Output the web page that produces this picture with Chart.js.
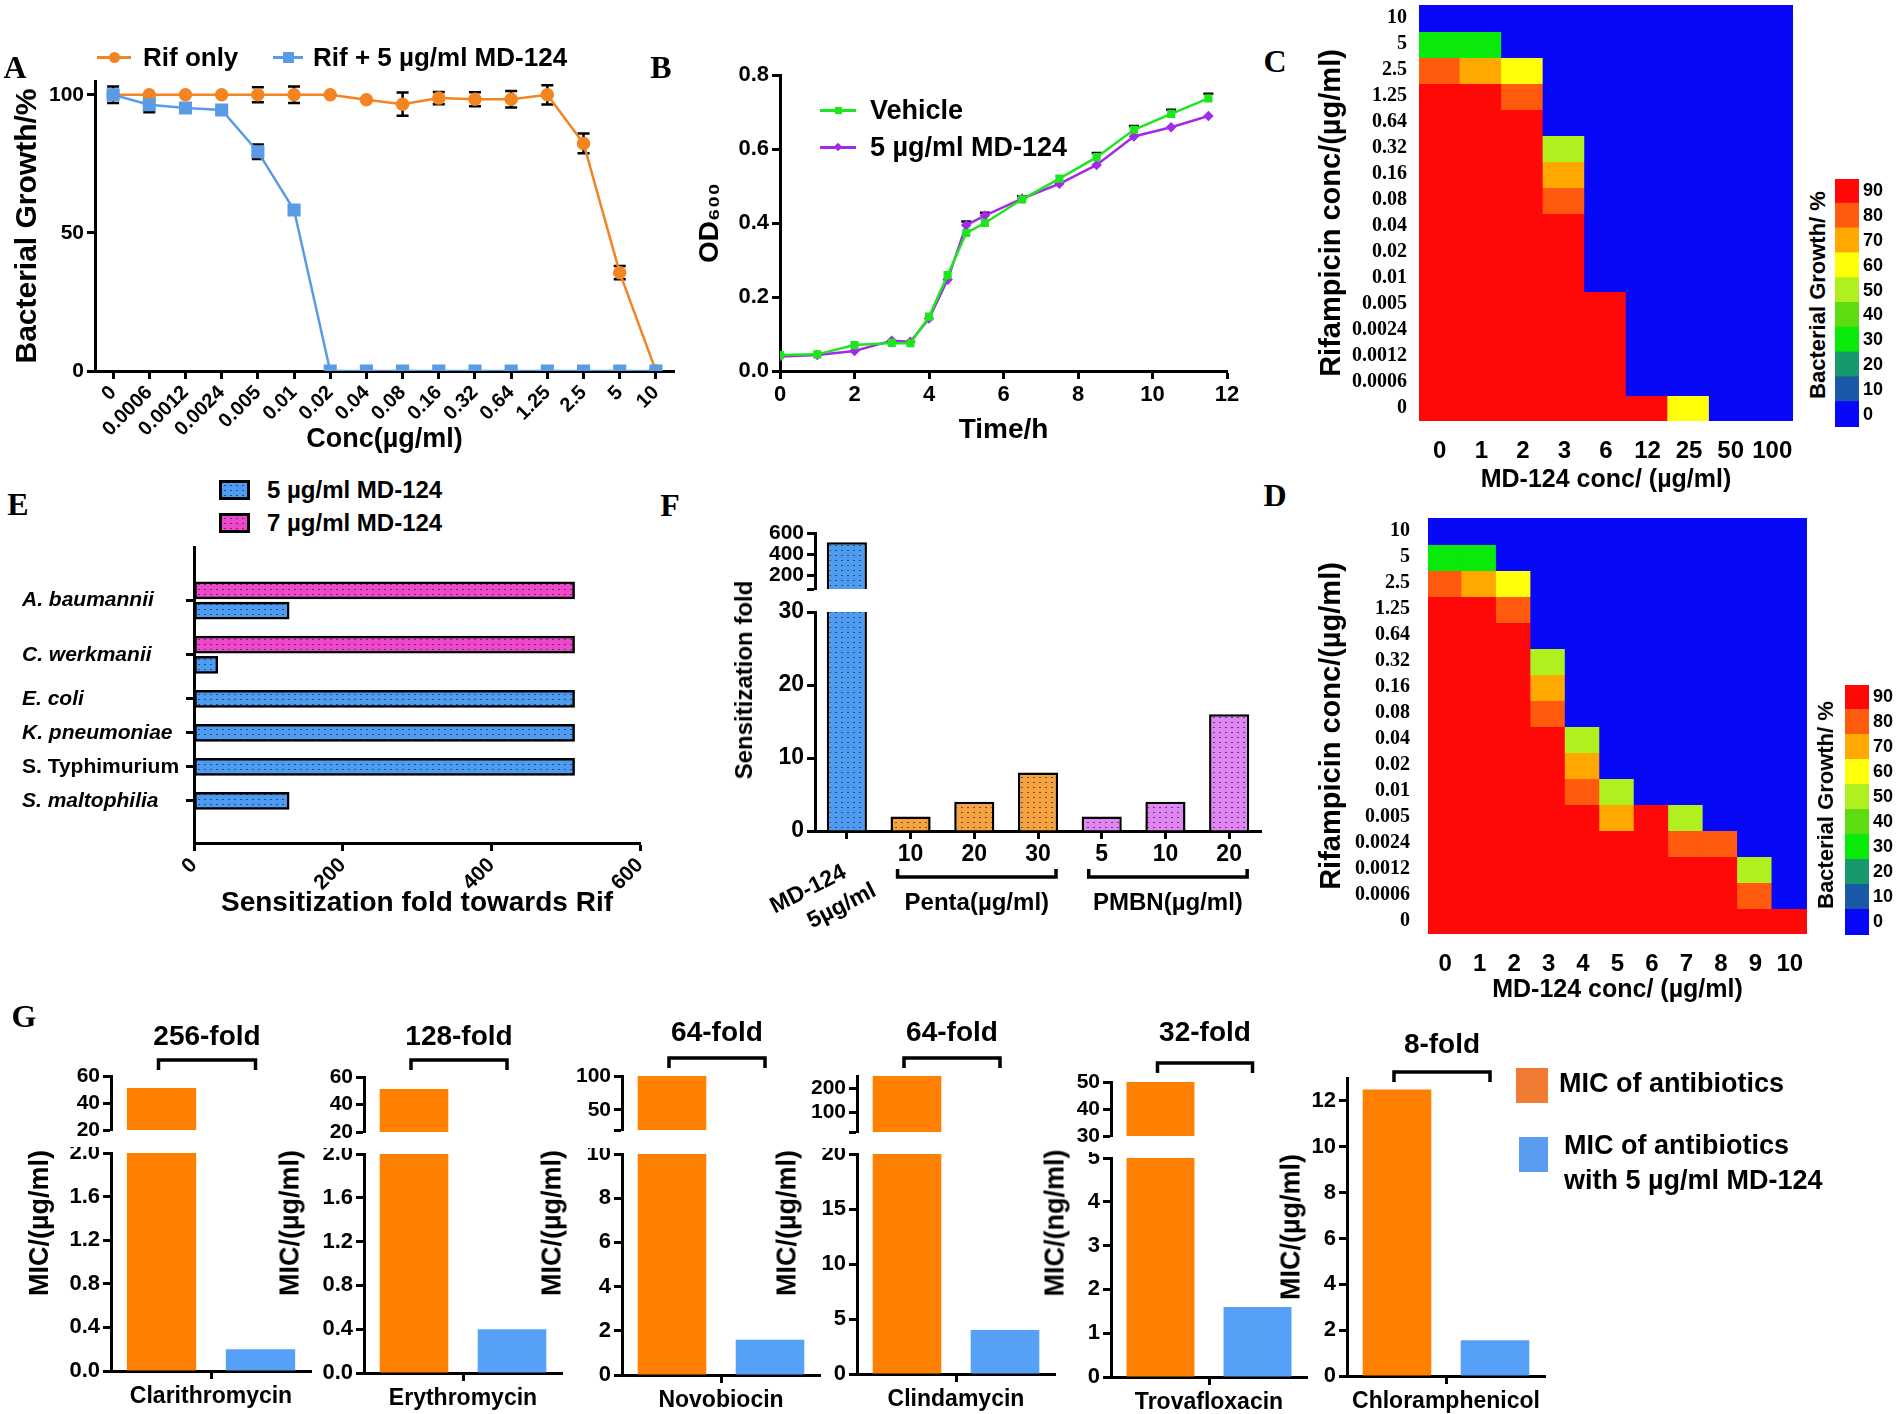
<!DOCTYPE html>
<html>
<head>
<meta charset="utf-8">
<title>MD-124 sensitization figure</title>
<script src="https://cdn.jsdelivr.net/npm/chart.js@4.4.1/dist/chart.umd.min.js"></script>
<style>
  body { margin: 0; background: #fff; }
  #fig { position: relative; width: 1901px; height: 1414px; overflow: hidden; background: #fff;
         font-family: "Liberation Sans", Arial, sans-serif; font-weight: bold; color: #000; }
  #fig canvas { position: absolute; }
  .t, .l, .v, .b { position: absolute; white-space: nowrap; line-height: 1; }
  .t { transform: translate(-50%, -50%); }
  .l { transform: translate(0, -50%); }
  .v { transform: translate(-50%, -50%) rotate(-90deg); }
  .p { font-family: "Liberation Serif", "Times New Roman", serif; }
</style>
</head>
<body>
<div id="fig"></div>
<script>
var SANS = '"Liberation Sans", Arial, sans-serif';
var SERIF = '"Liberation Serif", "Times New Roman", serif';

// A - growth vs rifampicin
var concLabels = ['0','0.0006','0.0012','0.0024','0.005','0.01','0.02','0.04','0.08','0.16','0.32','0.64','1.25','2.5','5','10'];
var rifOnly   = [100,100,100,100,100,100,100,98.2,96.6,98.8,98.4,98.4,100,82.4,35.6,0];
var rifOnlySd = [0,0,0,0,2.7,3,0,0,4.2,2.2,2.5,3,3.5,3.6,2.4,0];
var rifMd     = [100,96.4,95.2,94.5,79.4,58.3,0,0,0,0,0,0,0,0,0,0];
var rifMdSd   = [3,2.7,0,0,2.6,0,0,0,0,0,0,0,0,0,0,0];
var growthTicks = [0,50,100];

// B - growth curve
var timeH       = [0,1,2,3,3.5,4,4.5,5,5.5,6.5,7.5,8.5,9.5,10.5,11.5];
var odVehicle   = [0.043,0.045,0.070,0.076,0.075,0.147,0.259,0.373,0.400,0.464,0.520,0.578,0.652,0.695,0.737];
var odVehicleSd = [0,0,0,0,0,0,0,0,0,0.008,0,0.011,0.01,0.011,0.012];
var odMd        = [0.039,0.043,0.054,0.082,0.079,0.142,0.247,0.394,0.420,0.466,0.506,0.557,0.634,0.659,0.689];
var odMdSd      = [0,0,0,0,0,0,0,0.01,0.008,0,0,0,0,0,0];
var timeTicks = [0,2,4,6,8,10,12];
var odTicks = [0,0.2,0.4,0.6,0.8];

// C, D - checkerboards (growth %)
var rifRows = ['10','5','2.5','1.25','0.64','0.32','0.16','0.08','0.04','0.02','0.01','0.005','0.0024','0.0012','0.0006','0'];
var mdColsC = ['0','1','2','3','6','12','25','50','100'];
var growthC = [
  [0,0,0,0,0,0,0,0,0],
  [35,35,0,0,0,0,0,0,0],
  [85,75,65,0,0,0,0,0,0],
  [95,95,85,0,0,0,0,0,0],
  [95,95,95,0,0,0,0,0,0],
  [95,95,95,55,0,0,0,0,0],
  [95,95,95,75,0,0,0,0,0],
  [95,95,95,85,0,0,0,0,0],
  [95,95,95,95,0,0,0,0,0],
  [95,95,95,95,0,0,0,0,0],
  [95,95,95,95,0,0,0,0,0],
  [95,95,95,95,95,0,0,0,0],
  [95,95,95,95,95,0,0,0,0],
  [95,95,95,95,95,0,0,0,0],
  [95,95,95,95,95,0,0,0,0],
  [95,95,95,95,95,95,65,0,0]
];
var mdColsD = ['0','1','2','3','4','5','6','7','8','9','10'];
var growthD = [
  [0,0,0,0,0,0,0,0,0,0,0],
  [35,35,0,0,0,0,0,0,0,0,0],
  [85,75,65,0,0,0,0,0,0,0,0],
  [95,95,85,0,0,0,0,0,0,0,0],
  [95,95,95,0,0,0,0,0,0,0,0],
  [95,95,95,55,0,0,0,0,0,0,0],
  [95,95,95,75,0,0,0,0,0,0,0],
  [95,95,95,85,0,0,0,0,0,0,0],
  [95,95,95,95,55,0,0,0,0,0,0],
  [95,95,95,95,75,0,0,0,0,0,0],
  [95,95,95,95,85,55,0,0,0,0,0],
  [95,95,95,95,95,75,95,55,0,0,0],
  [95,95,95,95,95,95,95,85,85,0,0],
  [95,95,95,95,95,95,95,95,95,55,0],
  [95,95,95,95,95,95,95,95,95,85,0],
  [95,95,95,95,95,95,95,95,95,95,95]
];
var binTicks = [0,10,20,30,40,50,60,70,80,90];
var binColors = ['#0808F8','#1A58A8','#17996C','#0AEA0A','#5EDC12','#B0F01E','#FFFF0A','#FFA800','#FF5A0E','#FF0808'];

// E - sensitization per species
var species = ['A. baumannii','C. werkmanii','E. coli','K. pneumoniae','S. Typhimurium','S. maltophilia'];
var fold5 = [128,32,512,512,512,128];
var fold7 = [512,512,null,null,null,null];
var eTicks = [0,200,400,600];

// F - comparison with other potentiators
var fLabels = [['MD-124','5\u00b5g/ml'],'10','20','30','5','10','20'];
var fFold = [512,2,4,8,2,4,16];
var fKind = ['md','penta','penta','penta','pmbn','pmbn','pmbn'];
var fGroups = [{name:'Penta(\u00b5g/ml)', from:1, to:3}, {name:'PMBN(\u00b5g/ml)', from:4, to:6}];
var fLowTicks = [0,10,20,30];
var fTopTicks = [70,200,400,600];
var fTopLabels = ['','200','400','600'];

// G - MIC of other antibiotics
var gDrugs = ['Clarithromycin','Erythromycin','Novobiocin','Clindamycin','Trovafloxacin','Chloramphenicol'];
var gMic   = [51.2,51.2,102.4,256,51.2,12.5];
var gMicMd = [0.2,0.4,1.6,4,1.6,1.56];
var gFold  = ['256-fold','128-fold','64-fold','64-fold','32-fold','8-fold'];
var gUnit  = ['MIC/(\u00b5g/ml)','MIC/(\u00b5g/ml)','MIC/(\u00b5g/ml)','MIC/(\u00b5g/ml)','MIC/(ng/ml)','MIC/(\u00b5g/ml)'];
var gLowTicks = [[0,0.4,0.8,1.2,1.6,2],[0,0.4,0.8,1.2,1.6,2],[0,2,4,6,8,10],[0,5,10,15,20],[0,1,2,3,4,5],[0,2,4,6,8,10,12]];
var gLowMax = [2,2,10,20,5,13];
var gTopTicks = [[20,40,60],[20,40,60],[20,50,100],[20,100,200],[30,40,50],null];
var gTopLabels = [['20','40','60'],['20','40','60'],['','50','100'],['','100','200'],['30','40','50'],null];
var gTopMax = [60,60,100,250,50,null];

// where each G chart sits on the page
var gPlace = [
  {ax:111, right:311, low:[1153,1371], up:[1076,1130], title:39, br:1060, ft:1037},
  {ax:364, right:562, low:[1154,1373], up:[1077,1132], title:290, br:1060, ft:1037},
  {ax:622, right:820, low:[1154,1375], up:[1076,1130], title:552, br:1058, ft:1033},
  {ax:857, right:1055, low:[1154,1374], up:[1076,1132], title:787, br:1058, ft:1033},
  {ax:1111, right:1307, low:[1158,1377], up:[1082,1136], title:1055, br:1063, ft:1033},
  {ax:1347, right:1545, low:[1078,1376], up:null, title:1291, br:1072, ft:1045}
];

var orangeA = '#F28522', blueA = '#5A9BE6';
var green = '#1EE61E', purple = '#A22BE8';
var gOrange = '#FF7F00', gBlue = '#57A0F7';

Chart.defaults.font.family = SANS;
Chart.defaults.font.weight = 'bold';
Chart.defaults.color = '#000';
Chart.defaults.animation = false;
Chart.defaults.events = [];
Chart.defaults.plugins.legend.display = false;
Chart.defaults.plugins.tooltip.enabled = false;

var fig = document.getElementById('fig');

function el(cls, x, y, text, size, css) {
  var d = document.createElement('div');
  d.className = cls;
  if (text != null) d.textContent = text;
  d.style.left = x + 'px';
  d.style.top = y + 'px';
  if (size) d.style.fontSize = size + 'px';
  if (css) Object.assign(d.style, css);
  fig.appendChild(d);
  return d;
}
function box(x, y, w, h, css) {
  return el('b', x, y, null, 0, Object.assign({width: w + 'px', height: h + 'px', boxSizing: 'border-box'}, css));
}
function lineKey(x0, x1, y, color, shape, size) {
  box(x0, y - 1.5, x1 - x0, 3, {background: color});
  var m = box((x0 + x1) / 2 - size / 2, y - size / 2, size, size, {background: color});
  if (shape == 'circle') m.style.borderRadius = '50%';
  if (shape == 'diamond') m.style.transform = 'rotate(45deg)';
}

// dotted fills
var scratch = document.createElement('canvas').getContext('2d');
function dotTile(base, dot) {
  var t = document.createElement('canvas');
  t.width = 6; t.height = 5;
  var g = t.getContext('2d');
  g.fillStyle = base; g.fillRect(0, 0, 6, 5);
  g.fillStyle = dot; g.fillRect(2, 2, 2, 1);
  return t;
}
var tiles = {
  md: dotTile('#4F9BF0', '#1B4E94'),
  pink: dotTile('#EC4ACB', '#86206E'),
  penta: dotTile('#F5A243', '#7E4A12'),
  pmbn: dotTile('#DE87F2', '#7A2C8E')
};
function pat(k) { return scratch.createPattern(tiles[k], 'repeat'); }

function setTicks(vals) {
  return function(s) { s.ticks = vals.map(function(v) { return {value: v}; }); };
}
function fitW(w) { return function(s) { s.width = w; s.paddingTop = 0; s.paddingBottom = 0; }; }
function fitH(h) { return function(s) { s.height = h; s.paddingLeft = 0; s.paddingRight = 0; }; }
function axisStyle(extra) {
  return Object.assign({
    border: {display: true, color: '#000', width: 3},
    grid: {display: true, drawOnChartArea: false, drawTicks: true, tickLength: 8, tickWidth: 3, tickColor: '#000', offset: false}
  }, extra);
}

// area = plot area in page px, m = room around it for axes
function plot(area, m, config) {
  var c = document.createElement('canvas');
  var w = area[2] - area[0] + m.l + m.r, h = area[3] - area[1] + m.t + m.b;
  c.width = w; c.height = h;
  c.style.left = (area[0] - m.l) + 'px';
  c.style.top = (area[1] - m.t) + 'px';
  c.style.width = w + 'px';
  c.style.height = h + 'px';
  fig.appendChild(c);
  var o = config.options;
  var pad = {left: m.l, top: m.t, right: m.r, bottom: m.b};
  Object.keys(o.scales).forEach(function(k) {
    var s = o.scales[k];
    if (s.display === false) return;
    var pos = s.position || (k.charAt(0) == 'x' ? 'bottom' : 'left');
    if (pos == 'bottom') { s.afterFit = fitH(m.b); pad.bottom = 0; }
    if (pos == 'left') { s.afterFit = fitW(m.l); pad.left = 0; }
    if (pos == 'right') { s.afterFit = fitW(m.r); pad.right = 0; }
  });
  o.layout = {padding: pad};
  o.responsive = false;
  o.devicePixelRatio = 1;
  return new Chart(c, config);
}

var errorBars = {
  id: 'errorBars',
  beforeDatasetsDraw: function(chart) {
    var ctx = chart.ctx, ys = chart.scales.y;
    chart.data.datasets.forEach(function(ds, i) {
      if (!ds.errors) return;
      var meta = chart.getDatasetMeta(i);
      ctx.save();
      ctx.strokeStyle = '#000';
      ctx.lineWidth = 2.5;
      ds.errors.forEach(function(e, j) {
        if (!e) return;
        var v = ds.data[j];
        if (typeof v == 'object') v = v.y;
        var x = meta.data[j].x, w = ds.capWidth || 6;
        var top = ys.getPixelForValue(v + e), bot = ys.getPixelForValue(ds.upOnly ? v : v - e);
        ctx.beginPath();
        ctx.moveTo(x, top); ctx.lineTo(x, bot);
        ctx.moveTo(x - w, top); ctx.lineTo(x + w, top);
        if (!ds.upOnly) { ctx.moveTo(x - w, bot); ctx.lineTo(x + w, bot); }
        ctx.stroke();
      });
      ctx.restore();
    });
  }
};

// ---------- A ----------
plot([95, 81, 674, 371], {l: 85, r: 30, t: 41, b: 85}, {
  type: 'line',
  data: {
    labels: concLabels,
    datasets: [
      {label: 'Rif only', data: rifOnly, errors: rifOnlySd, borderColor: orangeA, backgroundColor: orangeA,
       borderWidth: 2.5, pointStyle: 'circle', pointRadius: 5.5, order: 1},
      {label: 'Rif + 5 \u00b5g/ml MD-124', data: rifMd, errors: rifMdSd, borderColor: blueA, backgroundColor: blueA,
       borderWidth: 2.5, pointStyle: 'rect', pointRadius: 7.5, order: 0}
    ]
  },
  options: {
    scales: {
      x: axisStyle({offset: true,
        ticks: {font: {size: 20}, minRotation: 45, maxRotation: 45, autoSkip: false, padding: 2},
        title: {display: true, text: 'Conc(\u00b5g/ml)', font: {size: 27}, padding: 0}}),
      y: axisStyle({min: 0, max: 105, afterBuildTicks: setTicks(growthTicks),
        ticks: {font: {size: 21}, padding: 3, autoSkip: false},
        title: {display: true, text: 'Bacterial Growth/%', font: {size: 30}, padding: 0}})
    }
  },
  plugins: [errorBars]
});
lineKey(97, 131, 57, orangeA, 'circle', 11);
el('l', 143, 57, 'Rif only', 26);
lineKey(273, 303, 57, blueA, 'square', 11);
el('l', 313, 57, 'Rif + 5 \u00b5g/ml MD-124', 26);

// ---------- B ----------
function pts(ys) { return timeH.map(function(t, i) { return {x: t, y: ys[i]}; }); }
plot([780, 75, 1227, 371], {l: 87, r: 30, t: 15, b: 76}, {
  type: 'line',
  data: {
    datasets: [
      {label: 'Vehicle', data: pts(odVehicle), errors: odVehicleSd, upOnly: true, capWidth: 5,
       borderColor: green, backgroundColor: green, borderWidth: 2.5, pointStyle: 'rect', pointRadius: 4},
      {label: '5 \u00b5g/ml MD-124', data: pts(odMd), errors: odMdSd, upOnly: true, capWidth: 5,
       borderColor: purple, backgroundColor: purple, borderWidth: 2.5, pointStyle: 'rectRot', pointRadius: 3.5}
    ]
  },
  options: {
    scales: {
      x: axisStyle({type: 'linear', min: 0, max: 12, afterBuildTicks: setTicks(timeTicks),
        ticks: {font: {size: 22}, padding: 3, autoSkip: false},
        title: {display: true, text: 'Time/h', font: {size: 28}, padding: 0}}),
      y: axisStyle({min: 0, max: 0.8, afterBuildTicks: setTicks(odTicks),
        ticks: {font: {size: 22}, padding: 3, autoSkip: false, callback: function(v) { return v.toFixed(1); }},
        title: {display: true, text: 'OD\u2086\u2080\u2080', font: {size: 28}, padding: 0}})
    }
  },
  plugins: [errorBars]
});
lineKey(820, 856, 110, green, 'square', 7);
el('l', 870, 110, 'Vehicle', 27);
lineKey(820, 856, 147, purple, 'diamond', 6);
el('l', 870, 147, '5 \u00b5g/ml MD-124', 27);

// ---------- C, D ----------
function binColor(v) { return binColors[Math.min(9, Math.floor(v / 10))]; }
function heatmap(area, m, cols, grid, yPad, xPad) {
  plot(area, m, {
    type: 'bar',
    data: {
      labels: cols,
      datasets: grid.map(function(row, r) {
        return {data: row.map(function() { return [r, r + 1]; }), backgroundColor: row.map(binColor), borderWidth: 0};
      })
    },
    options: {
      datasets: {bar: {grouped: false, categoryPercentage: 1, barPercentage: 1, inflateAmount: 1}},
      scales: {
        x: {grid: {display: false}, border: {display: false},
            ticks: {font: {size: 24}, padding: xPad, autoSkip: false, maxRotation: 0},
            title: {display: true, text: 'MD-124 conc/ (\u00b5g/ml)', font: {size: 25}, padding: 0}},
        y: {min: 0, max: rifRows.length, reverse: true, grid: {display: false, drawTicks: false}, border: {display: false},
            afterBuildTicks: setTicks(rifRows.map(function(_, r) { return r + 0.5; })),
            ticks: {autoSkip: false, padding: yPad, font: {family: SERIF, size: 20},
                    callback: function(v, i) { return rifRows[i]; }},
            title: {display: true, text: 'Rifampicin conc/(\u00b5g/ml)', font: {size: 29}, padding: 0}}
      }
    }
  });
}
function colorbar(area) {
  plot(area, {l: 0, r: 40, t: 10, b: 10}, {
    type: 'bar',
    data: {
      labels: [''],
      datasets: binColors.map(function(c, i) {
        return {data: [[binTicks[i], binTicks[i] + 10]], backgroundColor: c, borderWidth: 0};
      })
    },
    options: {
      datasets: {bar: {grouped: false, categoryPercentage: 1, barPercentage: 1, inflateAmount: 1}},
      scales: {
        x: {display: false},
        y: {position: 'right', min: 0, max: 100, grid: {display: false, drawTicks: false}, border: {display: false},
            afterBuildTicks: setTicks(binTicks.map(function(v) { return v + 5; })),
            ticks: {autoSkip: false, padding: 4, font: {size: 18}, callback: function(v, i) { return binTicks[i]; }}}
      }
    }
  });
}
heatmap([1419, 5, 1793, 421], {l: 104, r: 8, t: 5, b: 74}, mdColsC, growthC, 12, 8);
colorbar([1835, 179, 1859, 427]);
el('v', 1818, 295, 'Bacterial Growth/ %', 22);
heatmap([1428, 518, 1807, 934], {l: 113, r: 8, t: 5, b: 71}, mdColsD, growthD, 18, 8);
colorbar([1845, 685, 1869, 935]);
el('v', 1826, 805, 'Bacterial Growth/ %', 22);

// ---------- E ----------
// bar slots: two bars per species when both doses exist
var ePos5 = [], ePos7 = [], eCenters = [], slot = 0;
species.forEach(function(s, i) {
  var start = slot;
  if (fold7[i] != null) { ePos7.push(slot); slot += 24.5; } else { ePos7.push(null); }
  ePos5.push(slot);
  eCenters.push((start + slot) / 2);
  slot += 41;
});
var e5 = fold5.map(function(v, i) { return {x: v, y: ePos5[i]}; });
var e7 = [];
fold7.forEach(function(v, i) { if (v != null) e7.push({x: v, y: ePos7[i]}); });
plot([194, 547, 640, 843], {l: 172, r: 40, t: 10, b: 77}, {
  type: 'bar',
  data: {
    datasets: [
      {label: '5 \u00b5g/ml MD-124', data: e5, backgroundColor: pat('md')},
      {label: '7 \u00b5g/ml MD-124', data: e7, backgroundColor: pat('pink')}
    ]
  },
  options: {
    indexAxis: 'y',
    datasets: {bar: {grouped: false, barThickness: 17, borderWidth: 2.5, borderColor: '#000', borderSkipped: false}},
    scales: {
      x: axisStyle({type: 'linear', min: 0, max: 600, afterBuildTicks: setTicks(eTicks),
        ticks: {font: {size: 21}, minRotation: 45, maxRotation: 45, padding: 2, autoSkip: false},
        title: {display: true, text: 'Sensitization fold towards Rif', font: {size: 28}, padding: 0}}),
      y: axisStyle({type: 'linear', reverse: true, min: ePos7[0] - 22.5, max: ePos5[ePos5.length - 1] + 21,
        afterBuildTicks: setTicks(eCenters),
        ticks: {crossAlign: 'far', autoSkip: false,
                font: function(c) { return {size: 21, style: species[c.index] == 'S. Typhimurium' ? 'normal' : 'italic'}; },
                callback: function(v, i) { return species[i]; }}})
    }
  }
});
box(219, 480, 31, 20, {border: '3px solid #000', background: 'url(' + tiles.md.toDataURL() + ')'});
el('l', 267, 490, '5 \u00b5g/ml MD-124', 24);
box(219, 513, 31, 20, {border: '3px solid #000', background: 'url(' + tiles.pink.toDataURL() + ')'});
el('l', 267, 523, '7 \u00b5g/ml MD-124', 24);

// ---------- F ----------
var fFill = fKind.map(pat);
var fDecor = {
  id: 'fDecor',
  afterDraw: function(chart) {
    var ctx = chart.ctx, xs = chart.scales.x, y0 = chart.chartArea.bottom;
    ctx.save();
    ctx.fillStyle = '#000';
    ctx.font = 'bold 23px ' + SANS;
    ctx.translate(xs.getPixelForValue(0) - 2, y0 + 40);
    ctx.rotate(-27 * Math.PI / 180);
    ctx.textAlign = 'right';
    ctx.textBaseline = 'middle';
    ctx.fillText(fLabels[0][0], 0, 0);
    ctx.fillText(fLabels[0][1], 18, 30);
    ctx.restore();
    ctx.save();
    ctx.strokeStyle = '#000';
    ctx.fillStyle = '#000';
    ctx.lineWidth = 3.5;
    ctx.font = 'bold 24px ' + SANS;
    ctx.textAlign = 'center';
    ctx.textBaseline = 'middle';
    fGroups.forEach(function(g) {
      var a = xs.getPixelForValue(g.from) - 13, b = xs.getPixelForValue(g.to) + 18, y = y0 + 46;
      ctx.beginPath();
      ctx.moveTo(a, y - 8); ctx.lineTo(a, y); ctx.lineTo(b, y); ctx.lineTo(b, y - 8);
      ctx.stroke();
      ctx.fillText(g.name, (a + b) / 2, y + 26);
    });
    ctx.restore();
  }
};
plot([815, 612, 1261, 831], {l: 60, r: 10, t: 12, b: 110}, {
  type: 'bar',
  data: {labels: fLabels, datasets: [{data: fFold, backgroundColor: fFill, borderColor: '#000', borderWidth: 2.5, clip: 0}]},
  options: {
    datasets: {bar: {categoryPercentage: 1, barPercentage: 0.63}},
    scales: {
      x: axisStyle({ticks: {font: {size: 23}, padding: 2, autoSkip: false, maxRotation: 0,
        callback: function(v, i) { return i == 0 ? '' : fLabels[i]; }}}),
      y: axisStyle({min: 0, max: 30, afterBuildTicks: setTicks(fLowTicks), ticks: {font: {size: 23}, padding: 3, autoSkip: false}})
    }
  },
  plugins: [fDecor]
});
plot([815, 533, 1261, 589], {l: 60, r: 10, t: 15, b: 14}, {
  type: 'bar',
  data: {labels: fLabels, datasets: [{
    data: fFold.map(function(v) { return v > fTopTicks[0] ? v : null; }),
    backgroundColor: fFill, borderColor: '#000', borderWidth: 2.5, clip: 0}]},
  options: {
    datasets: {bar: {categoryPercentage: 1, barPercentage: 0.63}},
    scales: {
      x: {display: false},
      y: axisStyle({min: fTopTicks[0], max: fTopTicks[fTopTicks.length - 1], afterBuildTicks: setTicks(fTopTicks),
        ticks: {font: {size: 21}, padding: 3, autoSkip: false, callback: function(v, i) { return fTopLabels[i]; }}})
    }
  }
});
el('v', 744, 680, 'Sensitization fold', 24);

// ---------- G ----------
function foldBracket(text, brDy, txtDy) {
  return {
    id: 'foldBracket',
    afterDraw: function(chart) {
      var a = chart.getDatasetMeta(0).data[0].x - 3, b = chart.getDatasetMeta(1).data[0].x - 5;
      var ctx = chart.ctx, y = chart.chartArea.top + brDy;
      ctx.save();
      ctx.strokeStyle = '#000';
      ctx.lineWidth = 3.5;
      ctx.beginPath();
      ctx.moveTo(a, y + 10); ctx.lineTo(a, y); ctx.lineTo(b, y); ctx.lineTo(b, y + 10);
      ctx.stroke();
      ctx.fillStyle = '#000';
      ctx.font = 'bold 28px ' + SANS;
      ctx.textAlign = 'center';
      ctx.textBaseline = 'middle';
      ctx.fillText(text, (a + b) / 2, chart.chartArea.top + txtDy);
      ctx.restore();
    }
  };
}
gDrugs.forEach(function(drug, i) {
  var P = gPlace[i];
  var top = P.up ? P.up[0] : P.low[0];
  var bracket = foldBracket(gFold[i], P.br - top, P.ft - top);
  var lt = gLowTicks[i], dec = lt[1] < 1 ? 1 : 0;
  plot([P.ax, P.low[0], P.right, P.low[1]], {l: 60, r: 12, t: P.up ? 6 : 50, b: 40}, {
    type: 'bar',
    data: {labels: [drug], datasets: [
      {data: [gMic[i]], backgroundColor: gOrange, clip: 0},
      {data: [gMicMd[i]], backgroundColor: gBlue, clip: 0}
    ]},
    options: {
      datasets: {bar: {categoryPercentage: 0.99, barPercentage: 0.7}},
      scales: {
        x: axisStyle({ticks: {font: {size: 23}, padding: 4, maxRotation: 0}}),
        y: axisStyle({min: 0, max: gLowMax[i], afterBuildTicks: setTicks(lt),
          ticks: {font: {size: 22}, padding: 3, autoSkip: false, callback: function(v) { return v.toFixed(dec); }}})
      }
    },
    plugins: P.up ? [] : [bracket]
  });
  if (P.up) {
    var tt = gTopTicks[i], tl = gTopLabels[i];
    plot([P.ax, P.up[0], P.right, P.up[1]], {l: 60, r: 12, t: 70, b: 14}, {
      type: 'bar',
      data: {labels: [drug], datasets: [
        {data: [gMic[i] > tt[0] ? gMic[i] : null], backgroundColor: gOrange, clip: 0},
        {data: [gMicMd[i] > tt[0] ? gMicMd[i] : null], backgroundColor: gBlue, clip: 0}
      ]},
      options: {
        datasets: {bar: {categoryPercentage: 0.99, barPercentage: 0.7}},
        scales: {
          x: {display: false},
          y: axisStyle({min: tt[0], max: gTopMax[i], afterBuildTicks: setTicks(tt),
            ticks: {font: {size: 21}, padding: 3, autoSkip: false, callback: function(v, j) { return tl[j]; }}})
        }
      },
      plugins: [bracket]
    });
  }
  el('v', P.title, i == 5 ? 1227 : 1223, gUnit[i], 27);
});
box(1516, 1068, 32, 35, {background: '#F07B32'});
el('l', 1559, 1083, 'MIC of antibiotics', 27);
box(1519, 1137, 29, 35, {background: '#5A9CF0'});
el('l', 1564, 1145, 'MIC of antibiotics', 27);
el('l', 1564, 1180, 'with 5 \u00b5g/ml MD-124', 27);

// panel letters
[['A',15,67],['B',661,67],['C',1275,61],['D',1275,495],['E',18,504],['F',670,505],['G',24,1016]].forEach(function(p) {
  el('t p', p[1], p[2], p[0], 32);
});
</script>
</body>
</html>
